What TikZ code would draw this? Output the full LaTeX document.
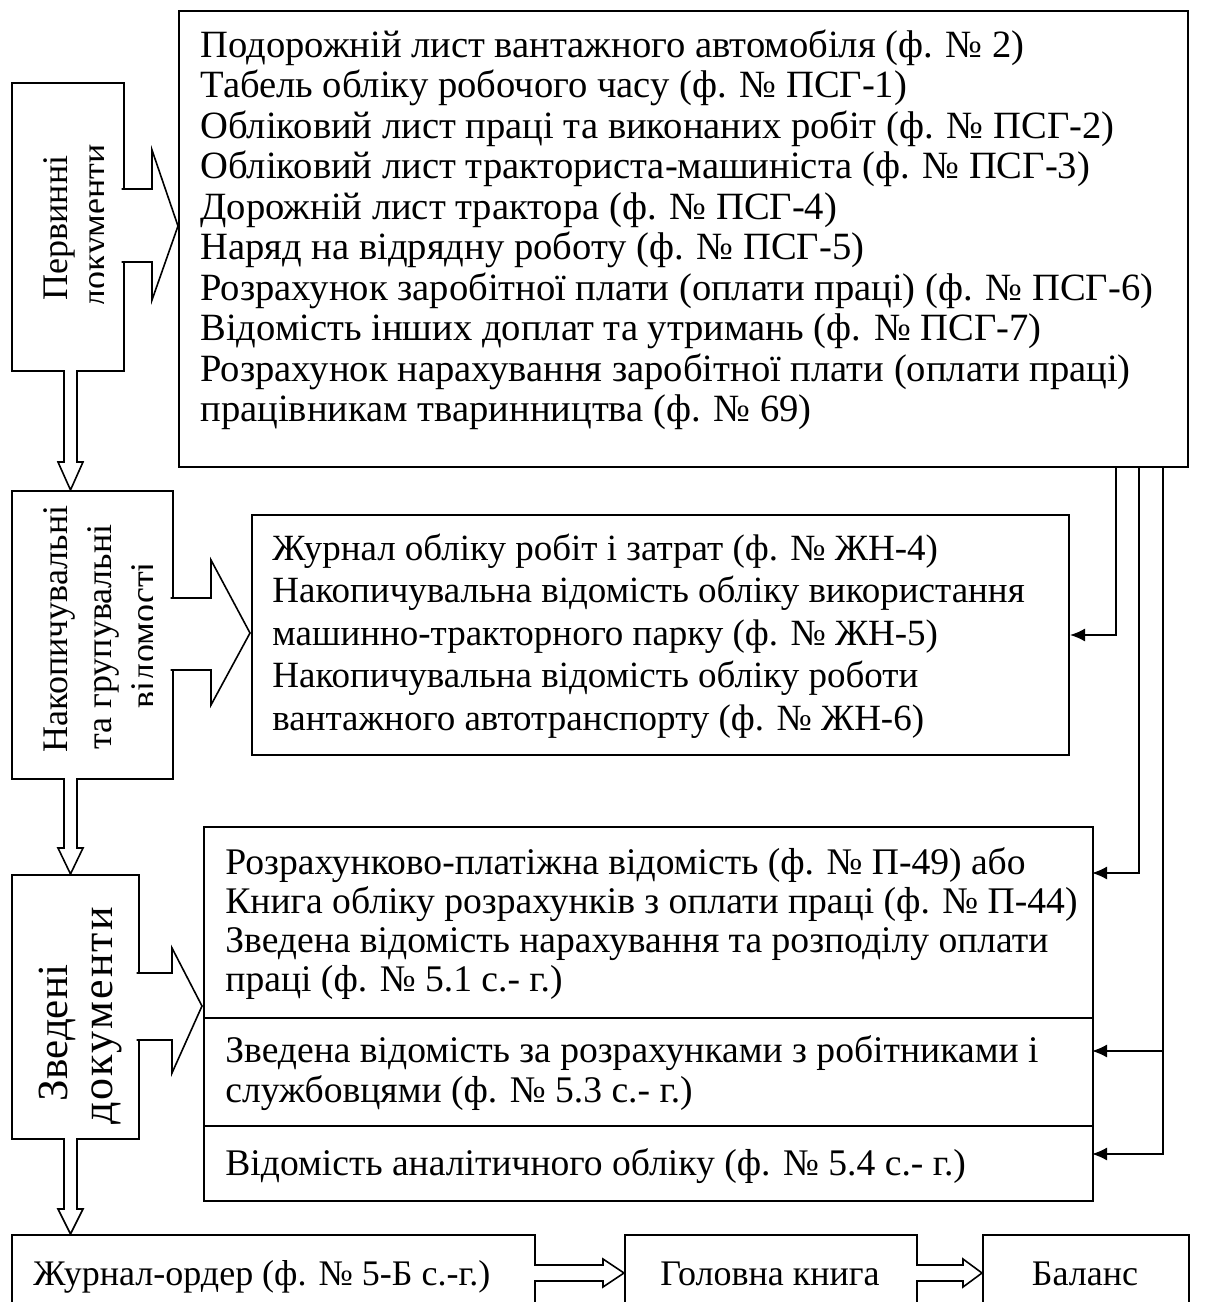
\documentclass[tikz,border=0pt]{standalone}
\usepackage{fontspec}
\setmainfont{Liberation Serif}
\usetikzlibrary{arrows.meta}
\begin{document}
\begin{tikzpicture}[x=0.5pt,y=-0.5pt,
  box/.style={draw, line width=1pt, inner sep=0pt, anchor=north west},
  txt/.style={anchor=base west, inner sep=0pt, font=\fontsize{18pt}{20pt}\selectfont},
  ctxt/.style={anchor=base, inner sep=0pt, font=\fontsize{18pt}{20pt}\selectfont},
  rtxt/.style={anchor=base, inner sep=0pt, rotate=90, font=\fontsize{18pt}{20pt}\selectfont},
  blk/.style={draw, fill=white, line width=0.8pt, line join=miter},
  conn/.style={draw, line width=0.8pt, -{Latex[length=7.5pt,width=6.5pt]}},
  ]
\useasboundingbox (0,0) rectangle (1207,1302);
\clip (0,0) rectangle (1207,1302);

% boxes
\node[box, minimum width=504.5pt, minimum height=228pt] (big) at (178,10) {};
\node[box, minimum width=56pt, minimum height=144pt] (pd) at (11,82) {};
\node[box, minimum width=80.5pt, minimum height=144pt] (nv) at (11,490) {};
\node[box, minimum width=63.5pt, minimum height=132pt] (zd) at (11,874) {};
\node[box, minimum width=408.5pt, minimum height=120pt] (jn) at (251,514) {};
\node[box, minimum width=444.5pt, minimum height=187pt] (sv) at (203,826) {};
\draw[line width=1pt] (sv.west |- 0,1018) -- (sv.east |- 0,1018);
\draw[line width=1pt] (sv.west |- 0,1126) -- (sv.east |- 0,1126);
\node[box, minimum width=261.5pt, minimum height=53pt] (jo) at (11,1234) {};
\node[box, minimum width=146pt, minimum height=53pt] (gk) at (624,1234) {};
\node[box, minimum width=103pt, minimum height=53pt] (bal) at (982,1234) {};

% big box text
\foreach \t [count=\i from 0] in {%
  {Подорожній лист вантажного автомобіля (ф. № 2)},
  {Табель обліку робочого часу (ф. № ПСГ-1)},
  {Обліковий лист праці та виконаних робіт (ф. № ПСГ-2)},
  {Обліковий лист тракториста-машиніста (ф. № ПСГ-3)},
  {Дорожній лист трактора (ф. № ПСГ-4)},
  {Наряд на відрядну роботу (ф. № ПСГ-5)},
  {Розрахунок заробітної плати (оплати праці) (ф. № ПСГ-6)},
  {Відомість інших доплат та утримань (ф. № ПСГ-7)},
  {Розрахунок нарахування заробітної плати (оплати праці)},
  {працівникам тваринництва (ф. № 69)}}
  \node[txt, font=\fontsize{19.3pt}{21pt}\selectfont] (bt\i) at (200,{57+40.5*\i}) {\t};

% JN box text
\foreach \t [count=\i from 0] in {%
  {Журнал обліку робіт і затрат (ф. № ЖН-4)},
  {Накопичувальна відомість обліку використання},
  {машинно-тракторного парку (ф. № ЖН-5)},
  {Накопичувальна відомість обліку роботи},
  {вантажного автотранспорту (ф. № ЖН-6)}}
  \node[txt, font=\fontsize{18.5pt}{20pt}\selectfont] (jt\i) at (272,{560+42.5*\i}) {\t};

% summary box text
\foreach \t [count=\i from 0] in {%
  {Розрахунково-платіжна відомість (ф. № П-49) або},
  {Книга обліку розрахунків з оплати праці (ф. № П-44)},
  {Зведена відомість нарахування та розподілу оплати},
  {праці (ф. № 5.1 с.- г.)}}
  \node[txt, font=\fontsize{18.8pt}{20pt}\selectfont] (st\i) at (225,{874+39.3*\i}) {\t};
\begin{scope}[txt/.append style={font=\fontsize{18.8pt}{20pt}\selectfont}]
\node[txt] (su1) at (225,1062) {Зведена відомість за розрахунками з робітниками і};
\node[txt] (su2) at (225,1102) {службовцями (ф. № 5.3 с.- г.)};
\node[txt] (sa) at (225,1175) {Відомість аналітичного обліку (ф. № 5.4 с.- г.)};
\end{scope}

% bottom row text
\node[txt] (jot) at (33,1285) {Журнал-ордер (ф. № 5-Б с.-г.)};
\node[ctxt] (gkt) at (770,1285) {Головна книга};
\node[ctxt] (balt) at (1085,1285) {Баланс};

% rotated texts
\begin{scope}
  \clip (11,82) rectangle (103,370);
  \node[rtxt] (pd1) at (67,228) {Первинні};
  \node[rtxt] (pd2) at (106,226) {документи};
\end{scope}
\begin{scope}
  \clip (11,490) rectangle (152,778);
  \node[rtxt] (nv1) at (67,629) {Накопичувальні};
  \node[rtxt] (nv2) at (111,637) {та групувальні};
  \node[rtxt] (nv3) at (155,635) {відомості};
\end{scope}
\node[rtxt, font=\fontsize{21.5pt}{23pt}\selectfont] (zd1) at (68,1033) {Зведені};
\node[rtxt, font=\fontsize{22pt}{23pt}\selectfont\addfontfeatures{LetterSpace=5}] (zd2) at (112,1016) {документи};

% block arrows
\draw[blk] (121.5,189) -- (152,189) -- (152,150) -- (178,226) -- (152,300) -- (152,262) -- (121.5,262);
\draw[blk] (170.5,598) -- (211,598) -- (211,560) -- (250,633) -- (211,705) -- (211,670) -- (170.5,670);
\draw[blk] (136.5,973) -- (172,973) -- (172,948) -- (202,1006) -- (172,1073) -- (172,1040) -- (136.5,1040);

% hollow vertical arrows
\draw[blk] (64,370) -- (64,462) -- (58,462) -- (70.5,490) -- (83,462) -- (77,462) -- (77,370);
\draw[blk] (64,778) -- (64,848) -- (58,848) -- (70.5,874) -- (83,848) -- (77,848) -- (77,778);
\draw[blk] (64,1138) -- (64,1209) -- (58,1209) -- (70.5,1234) -- (83,1209) -- (77,1209) -- (77,1138);

% hollow horizontal arrows
\draw[blk] (534,1265) -- (603,1265) -- (603,1259) -- (624,1273) -- (603,1287) -- (603,1281) -- (534,1281);
\draw[blk] (916,1265) -- (963,1265) -- (963,1259) -- (982,1273) -- (963,1287) -- (963,1281) -- (916,1281);

% connectors
\coordinate (s1) at (1116,466);
\coordinate (s2) at (1139,466);
\coordinate (s3) at (1163,466);
\coordinate (e2) at (1092,873);
\coordinate (b3) at (1163,1051);
\coordinate (e3) at (1092,1051);
\coordinate (e4) at (1092,1154);
\draw[conn] (s1) |- (jn.east);
\draw[conn] (s2) |- (e2);
\draw[conn] (s3) |- (e4);
\draw[conn] (b3) -- (e3);
\end{tikzpicture}
\end{document}
